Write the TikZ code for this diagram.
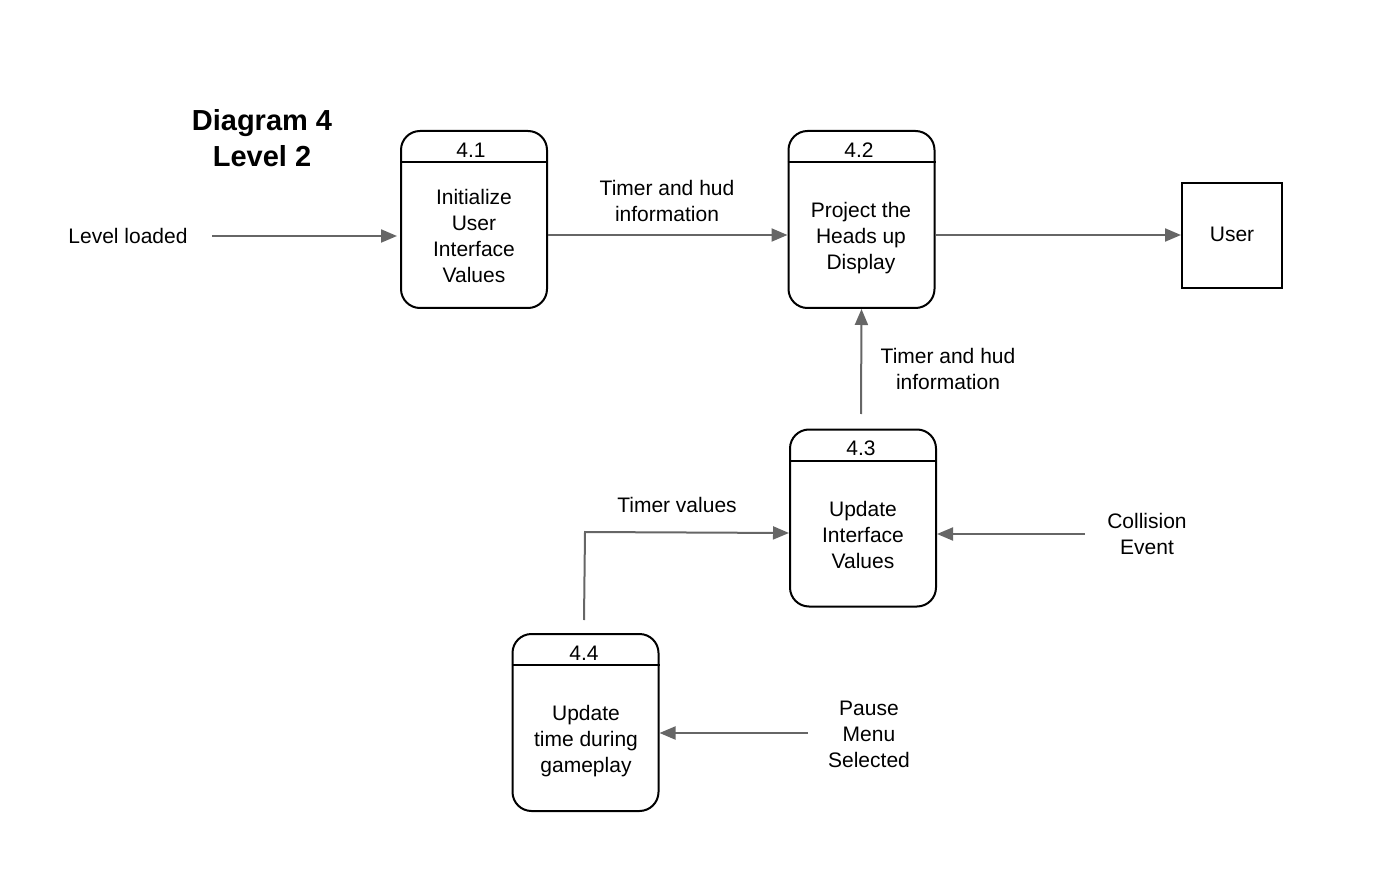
\documentclass[tikz,border=0pt]{standalone}
\usepackage{fontspec}
\setmainfont{Liberation Sans}
\usetikzlibrary{arrows.meta,calc}
\begin{document}
\begin{tikzpicture}[x=1pt,y=-1pt,
  proc/.style={draw=black,line width=2pt,rounded corners=19pt,minimum width=146pt,minimum height=177pt,inner sep=0pt},
  ext/.style={draw=black,line width=2pt,minimum width=100pt,minimum height=105pt,inner sep=0pt},
  txt/.style={inner sep=0pt,align=center,font=\fontsize{21}{26}\selectfont},
  flow/.style={draw=black!60,line width=2pt,-{Triangle[length=16pt,width=13pt]}},
  divider/.style={line width=2pt}]
\useasboundingbox (0,0) rectangle (1392,885);

% title
\node[txt,font=\fontsize{29}{36}\bfseries\selectfont] (title) at (262,138) {Diagram 4\\Level 2};

% process boxes
\node[proc] (p1) at (474,219.5) {};
\node[proc] (p2) at (861.5,219.5) {};
\node[proc] (p3) at (863,518) {};
\node[proc] (p4) at (585.5,722.5) {};
\node[ext] (user) at (1232,235.5) {};

% header dividers
\foreach \p in {p1,p2,p3,p4}
  \draw[divider] ($(\p.north west)+(0,32)$) -- ($(\p.north east)+(0,32)$);

% box texts
\node[txt] (n1) at (471,150) {4.1};
\node[txt] (t1) at (474,236) {Initialize\\User\\Interface\\Values};
\node[txt] (n2) at (859,150) {4.2};
\node[txt] (t2) at (861,238) {Project the\\Heads up\\Display};
\node[txt] (n3) at (861,448) {4.3};
\node[txt] (t3) at (863,535) {Update\\Interface\\Values};
\node[txt] (n4) at (584,653) {4.4};
\node[txt] (t4) at (586,741) {Update\\time during\\gameplay};
\node[txt] (tu) at (1232,234) {User};

% external labels
\node[txt] (lvl) at (128,236) {Level loaded};
\node[txt] (l12) at (667,201) {Timer and hud\\information};
\node[txt] (l32) at (948,369) {Timer and hud\\information};
\node[txt] (coll) at (1147,534) {Collision\\Event};
\node[txt] (tv) at (677,505) {Timer values};
\node[txt] (pause) at (869,734) {Pause\\Menu\\Selected};

% free ends of flows
\coordinate (lvlend) at (212,236);
\coordinate (up3) at (861,414);
\coordinate (collend) at (1085,534);
\coordinate (tvstart) at (584,620);
\coordinate (tvbend) at (585,532);
\coordinate (pauseend) at (808,733);

% flows
\draw[flow,shorten >=3pt] (lvlend) -- (lvlend -| p1.west);
\draw[flow] (p1.east |- 0,235) -- (p2.west |- 0,235);
\draw[flow] (p2.east |- 0,235) -- (user.west |- 0,235);
\draw[flow] (up3) -- (p2.south);
\draw[flow] (collend) -- (collend -| p3.east);
\draw[flow] (tvstart) -- (tvbend) -- (p3.west |- 0,533);
\draw[flow] (pauseend) -- (pauseend -| p4.east);
\end{tikzpicture}
\end{document}
